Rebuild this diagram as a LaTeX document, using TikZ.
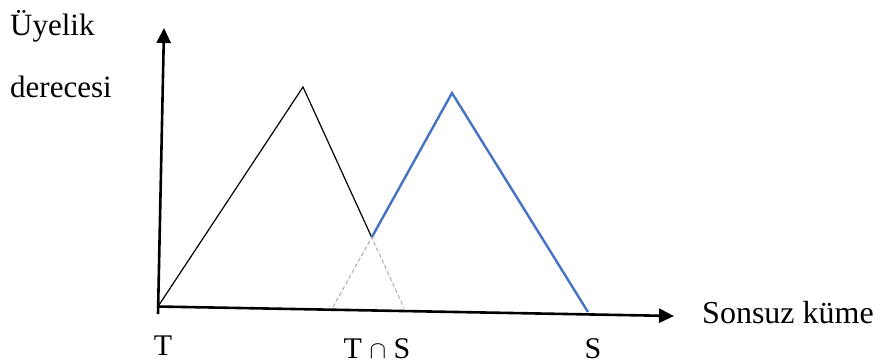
\documentclass[tikz,border=0pt]{standalone}
\usepackage{fontspec}
\setmainfont{Liberation Serif}
\usetikzlibrary{arrows.meta}
\definecolor{setblue}{HTML}{4472C4}
\definecolor{dashgray}{HTML}{A6A6A6}

\begin{document}
\begin{tikzpicture}[
  x=1pt, y=-1pt,
  every node/.style = {font=\fontsize{31}{34}\selectfont, inner sep=0pt},
  axis/.style = {line width=2.6pt, -{Triangle[length=15pt, width=14pt]}},
]
\useasboundingbox (0,0) rectangle (880,363);

% ── Axes ──────────────────────────────────────────────────────────────────
\coordinate (O)    at (158,306.5);
\coordinate (ybot) at (158,314);
\coordinate (ytop) at (164,28);
\coordinate (xend) at (674,316);
\draw[axis] (ybot) -- (ytop);
\draw[axis] (157,306.5) -- (xend);

% ── Set T (black) and set S (blue) ────────────────────────────────────────
\coordinate (Tpeak) at (303,87);
\coordinate (Tend)  at (404,308);
\coordinate (Speak) at (452,93);
\coordinate (Send)  at (588,312);
\coordinate (Sbeg)  at (333,307);
\coordinate (X) at (intersection of Tpeak--Tend and Speak--Sbeg);

\draw[line width=1.2pt] (O) -- (Tpeak) -- (X);
\draw[setblue, line width=2.4pt] (X) -- (Speak) -- (Send);

% ── Hidden parts below the intersection ──────────────────────────────────
\draw[dashgray, line width=0.9pt, dashed, dash pattern=on 4pt off 2.5pt]
  (Sbeg) -- (X) -- (Tend);

% ── Labels ────────────────────────────────────────────────────────────────
\node[anchor=base west] (lab1) at (10,36) {Üyelik};
\node[anchor=base west] (lab2) at (10,98) {derecesi};
\node[anchor=base west, font=\fontsize{32}{35}\selectfont] (labx) at (702,323) {Sonsuz küme};
\node[anchor=base, font=\fontsize{30}{33}\selectfont] (labT)  at (163,355) {T};
\node[anchor=base, font=\fontsize{30}{33}\selectfont] (labTS) at (377,358) {T $\cap$ S};
\node[anchor=base, font=\fontsize{30}{33}\selectfont] (labS)  at (593,358) {S};

\end{tikzpicture}
\end{document}
